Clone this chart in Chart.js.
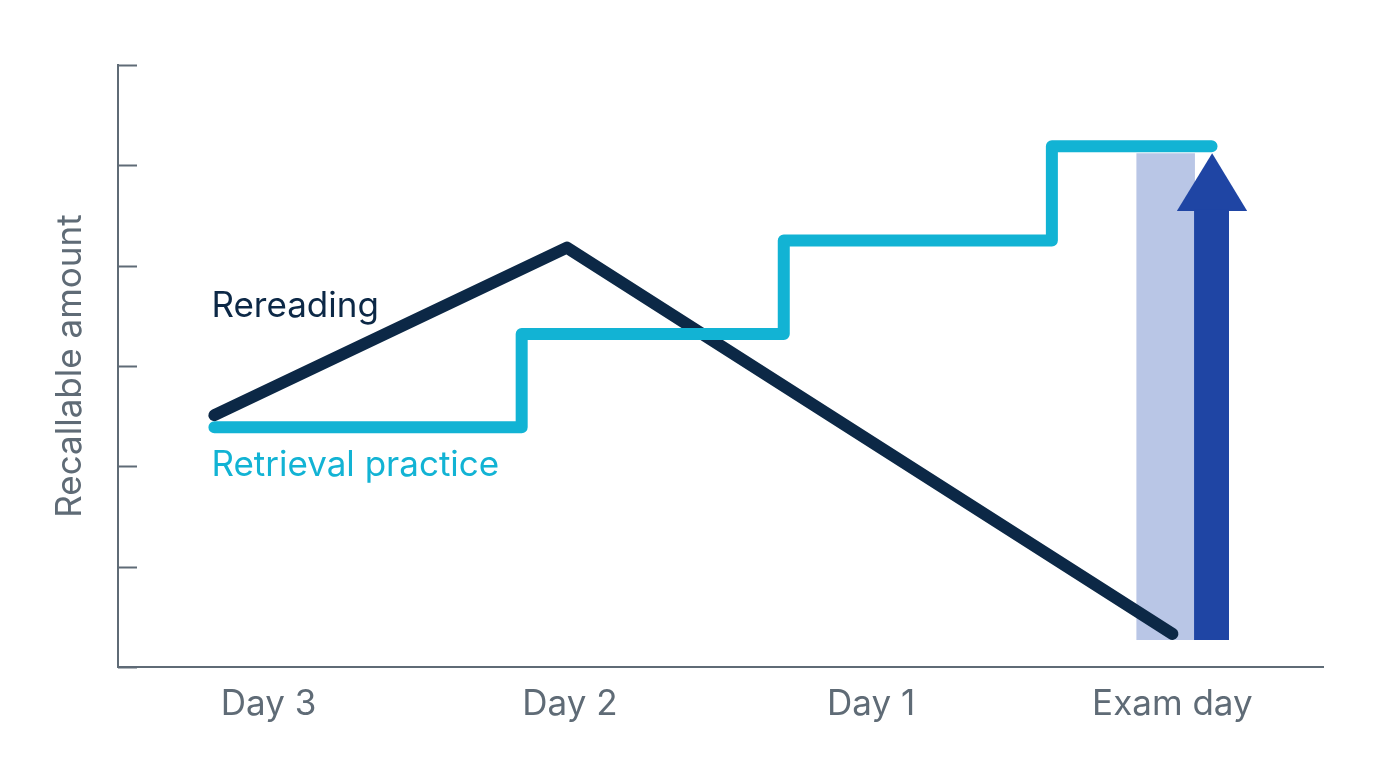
<!DOCTYPE html>
<html>
<head>
<meta charset="utf-8">
<script src="https://cdn.jsdelivr.net/npm/chart.js@4.4.1/dist/chart.umd.min.js"></script>
<style>
  html, body { margin: 0; padding: 0; background: #ffffff; }
  #wrap { width: 1376px; height: 768px; position: relative; }
</style>
</head>
<body>
<div id="wrap"><canvas id="chart"></canvas></div>
<script>
// categories on the x axis
const days = ['Day 3', 'Day 2', 'Day 1', 'Exam day'];

// Rereading: rises, then falls off before the exam
const rereadingX = [-0.18, 0.99, 3.0];
const rereadingY = [2.51, 4.18, 0.33];

// Retrieval practice: steps up each day
const retrievalX = [-0.18, 0.84, 1.71, 2.6, 3.13];
const retrievalY = [2.39, 3.32, 4.25, 5.19, 5.19];

// exam-day band and arrow
const bandX = [2.88, 3.075];
const bandY = [5.12, 5.12];
const shaftX = [3.072, 3.188];
const shaftY = [4.56, 4.56];
const headX = [3.015, 3.132, 3.248];
const headY = [4.545, 5.12, 4.545];
const barBase = 0.27;

const yTicks = [0, 1, 2, 3, 4, 5, 6];

const NAVY = '#0c2846';
const CYAN = '#12b3d4';
const GREY = '#5f6b76';
const FONT = 'Inter, "Noto Sans", sans-serif';

const annotations = [
    { text: 'Rereading', x: -0.19, y: 3.49, color: NAVY },
    { text: 'Retrieval practice', x: -0.19, y: 1.9, color: CYAN }
];

const pts = (xs, ys) => xs.map((x, i) => ({ x, y: ys[i] }));

const extras = {
    id: 'extras',
    afterDraw(chart) {
        const { ctx, scales: { x, y } } = chart;
        ctx.save();
        // inward tick marks on the y axis
        ctx.strokeStyle = GREY;
        ctx.lineWidth = 2;
        yTicks.forEach(v => {
            const py = Math.round(y.getPixelForValue(v)) + 0.5;
            ctx.beginPath();
            ctx.moveTo(x.left, py);
            ctx.lineTo(x.left + 19, py);
            ctx.stroke();
        });
        // series labels
        ctx.font = '35px ' + FONT;
        ctx.textBaseline = 'alphabetic';
        annotations.forEach(a => {
            ctx.fillStyle = a.color;
            ctx.fillText(a.text, x.getPixelForValue(a.x), y.getPixelForValue(a.y));
        });
        ctx.restore();
    }
};

new Chart(document.getElementById('chart'), {
    type: 'line',
    data: {
        datasets: [
            {
                label: 'Retrieval practice',
                data: pts(retrievalX, retrievalY),
                borderColor: CYAN,
                borderWidth: 12,
                stepped: true,
                borderCapStyle: 'round',
                borderJoinStyle: 'round',
                pointRadius: 0,
                order: 0
            },
            {
                label: 'Arrow shaft',
                data: pts(shaftX, shaftY),
                borderWidth: 0,
                backgroundColor: '#1f45a4',
                fill: { value: barBase },
                pointRadius: 0,
                order: 1
            },
            {
                label: 'Arrow head',
                data: pts(headX, headY),
                borderWidth: 0,
                backgroundColor: '#1f45a4',
                fill: { value: headY[0] },
                pointRadius: 0,
                order: 1
            },
            {
                label: 'Rereading',
                data: pts(rereadingX, rereadingY),
                borderColor: NAVY,
                borderWidth: 12,
                borderCapStyle: 'round',
                borderJoinStyle: 'round',
                pointRadius: 0,
                order: 2
            },
            {
                label: 'Exam band',
                data: pts(bandX, bandY),
                borderWidth: 0,
                backgroundColor: '#b9c6e6',
                fill: { value: barBase },
                pointRadius: 0,
                order: 3
            }
        ]
    },
    options: {
        responsive: true,
        maintainAspectRatio: false,
        animation: false,
        layout: { padding: { top: 65, right: 53, left: 0, bottom: 0 } },
        plugins: { legend: { display: false }, tooltip: { enabled: false } },
        elements: { line: { tension: 0 } },
        scales: {
            x: {
                type: 'linear',
                min: -0.5,
                max: 3.5,
                afterBuildTicks: axis => { axis.ticks = days.map((d, i) => ({ value: i })); },
                afterFit: axis => { axis.height = 101; },
                ticks: {
                    callback: v => days[v],
                    color: GREY,
                    font: { family: FONT, size: 35 },
                    padding: 16
                },
                grid: { display: false, drawTicks: false },
                border: { color: GREY, width: 2 }
            },
            y: {
                min: 0,
                max: 6,
                afterBuildTicks: axis => { axis.ticks = yTicks.map(v => ({ value: v })); },
                afterFit: axis => { axis.width = 118; },
                ticks: { display: false },
                grid: { display: false, drawTicks: false },
                border: { color: GREY, width: 2 },
                title: {
                    display: true,
                    text: 'Recallable amount',
                    color: GREY,
                    font: { family: FONT, size: 35 },
                    padding: { top: 49, bottom: 0 }
                }
            }
        }
    },
    plugins: [extras]
});
</script>
</body>
</html>
